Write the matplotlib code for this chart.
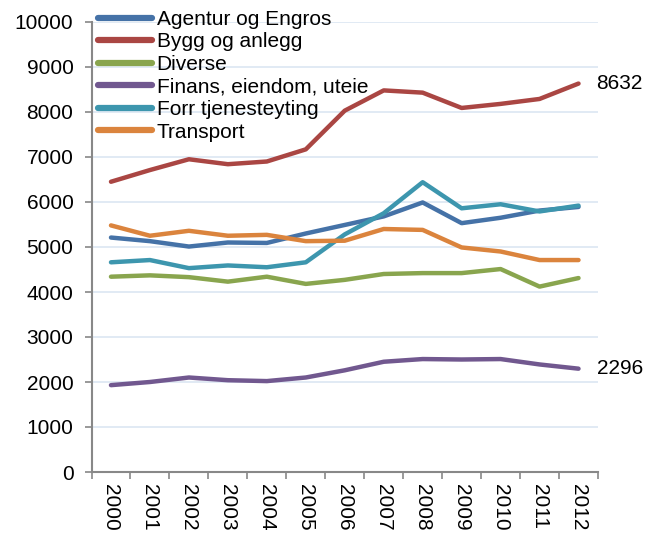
import matplotlib
matplotlib.use("Agg")
import matplotlib.pyplot as plt

years = [str(y) for y in range(2000, 2013)]
agentur = [5210, 5130, 5010, 5100, 5090, 5300, 5490, 5680, 5990, 5530, 5650, 5810, 5890]
bygg = [6450, 6710, 6950, 6840, 6900, 7170, 8030, 8480, 8430, 8090, 8180, 8290, 8632]
diverse = [4340, 4370, 4330, 4230, 4340, 4180, 4270, 4400, 4420, 4420, 4510, 4120, 4310]
finans = [1930, 2000, 2100, 2040, 2020, 2100, 2260, 2450, 2510, 2500, 2510, 2390, 2296]
forr = [4660, 4710, 4530, 4590, 4550, 4660, 5280, 5750, 6440, 5860, 5950, 5790, 5920]
transport = [5480, 5250, 5360, 5250, 5270, 5130, 5140, 5400, 5380, 4990, 4900, 4710, 4710]

series = [
    ("Agentur og Engros", agentur, "#4572A7"),
    ("Bygg og anlegg", bygg, "#AA4643"),
    ("Diverse", diverse, "#89A54E"),
    ("Finans, eiendom, uteie", finans, "#71588F"),
    ("Forr tjenesteyting", forr, "#3D96AE"),
    ("Transport", transport, "#DB843D"),
]

FS = 15
plt.rcParams['font.family'] = ['Liberation Sans', 'DejaVu Sans']
fig = plt.figure(figsize=(6.59, 5.33), dpi=100)
ax = fig.add_axes([91.5 / 659, 1 - 472 / 533, (598 - 91.5) / 659, (472 - 22) / 533])

x = list(range(len(years)))
for name, vals, col in series:
    ax.plot(x, vals, color=col, lw=3.2, label=name, solid_capstyle='round', solid_joinstyle='round')

ax.set_ylim(0, 10000)
ax.set_xlim(-0.5, len(years) - 0.5)
ax.set_yticks(range(0, 10001, 1000))
ax.yaxis.grid(True, color='#DCE6F2', lw=1.2)
ax.set_axisbelow(True)
ax.set_xticks(x)
ax.set_xticklabels(years, rotation=270, fontsize=FS)
ax.set_xticks([i - 0.5 for i in range(len(years) + 1)], minor=True)
ax.tick_params(axis='x', which='major', length=0, pad=9)
ax.tick_params(axis='x', which='minor', length=5, color='#888888', width=1.2)
ax.tick_params(axis='y', length=5, color='#888888', width=1.2, labelsize=FS, pad=8)
for s in ['top', 'right']:
    ax.spines[s].set_visible(False)
for s in ['left', 'bottom']:
    ax.spines[s].set_color('#888888')
    ax.spines[s].set_linewidth(1.5)

ax.annotate(str(bygg[-1]), xy=(x[-1], bygg[-1]), xytext=(13, 0), textcoords='offset points',
            va='center', ha='left', fontsize=FS)
ax.annotate(str(finans[-1]), xy=(x[-1], finans[-1]), xytext=(13, 0), textcoords='offset points',
            va='center', ha='left', fontsize=FS)

leg = ax.legend(loc='upper left', bbox_to_anchor=(0.130, 1.005), bbox_transform=fig.transFigure,
                frameon=False, fontsize=FS, handlelength=2.6, handletextpad=0.2,
                labelspacing=0.17, borderpad=0.1)
for h in leg.get_lines():
    h.set_linewidth(4.5)
    h.set_solid_capstyle('round')

fig.savefig("out.png", dpi=100)
